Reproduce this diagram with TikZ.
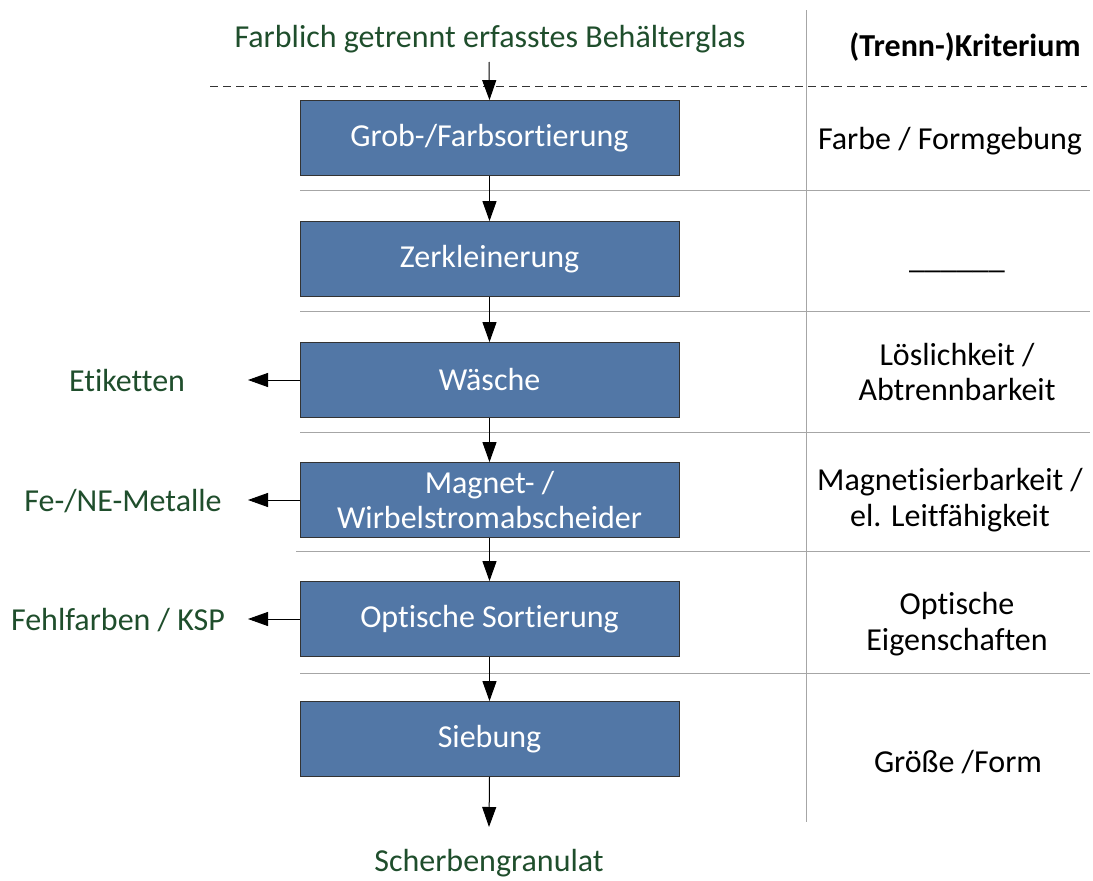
\documentclass[tikz,border=0pt]{standalone}
\usepackage{fontspec}
\setmainfont[Ligatures={NoCommon}]{Carlito}
\usetikzlibrary{arrows.meta}
\definecolor{boxblue}{HTML}{5277A6}
\definecolor{dgreen}{HTML}{1F4E2C}
\definecolor{lgray}{HTML}{A6A6A6}
\tikzset{
  every node/.style={font=\fontsize{32}{35.5}\selectfont, inner sep=0pt},
  stepbox/.style={draw=black!80, line width=0.8pt, fill=boxblue, text=white, minimum width=379pt, minimum height=75pt, align=center},
  greentxt/.style={text=dgreen},
  crit/.style={align=center, text=black},
  flow/.style={line width=1pt, -{Triangle[length=20pt,width=14pt]}},
  sep/.style={lgray, line width=1pt},
}
\begin{document}
\begin{tikzpicture}[x=1pt,y=-1pt]
\useasboundingbox (0,0) rectangle (1093,881);
% separators
\draw[sep] (806,10) -- (806,822);
\draw[dashed, line width=0.8pt, dash pattern=on 8pt off 5pt, black!80] (210,86) -- (1087,86);
\draw[sep] (300,190) -- (1090,190);
\draw[sep] (300,311) -- (1090,311);
\draw[sep] (300,432) -- (1090,432);
\draw[sep] (296,551) -- (1090,551);
\draw[sep] (300,673) -- (1090,673);
% boxes
\node[stepbox] (b1) at (489.5,138) {Grob-/Farbsortierung};
\node[stepbox] (b2) at (489.5,259) {Zerkleinerung};
\node[stepbox] (b3) at (489.5,380) {Wäsche};
\node[stepbox] (b4) at (489.5,500) {Magnet- /\\Wirbelstromabscheider};
\node[stepbox] (b5) at (489.5,619) {Optische Sortierung};
\node[stepbox] (b6) at (489.5,739) {Siebung};
% green labels
\node[greentxt] (in) at (490,39) {Farblich getrennt erfasstes Behälterglas};
\node[greentxt] (out) at (489,863) {Scherbengranulat};
\node[greentxt] (o3) at (127,381) {Etiketten};
\node[greentxt] (o4) at (123,501) {Fe-/NE-Metalle};
\node[greentxt] (o5) at (118,620) {Fehlfarben / KSP};
\coordinate (inA) at (489,62);
\coordinate (outA) at (489,827);
\coordinate (t3) at (248,380);
\coordinate (t4) at (248,500);
\coordinate (t5) at (248,619);
% arrows
\draw[flow] (inA) -- (b1.north);
\draw[flow] (b1) -- (b2);
\draw[flow] (b2) -- (b3);
\draw[flow] (b3) -- (b4);
\draw[flow] (b4) -- (b5);
\draw[flow] (b5) -- (b6);
\draw[flow] (b6.south) -- (outA);
\draw[flow] (b3.west) -- (t3);
\draw[flow] (b4.west) -- (t4);
\draw[flow] (b5.west) -- (t5);
% criteria
\node[crit, font=\fontsize{32}{35.5}\selectfont\bfseries] (k0) at (965,47) {(Trenn-)Kriterium};
\node[crit] (k1) at (950,141) {Farbe / Formgebung};
\node[crit] (k2) at (957,271) {\_\_\_\_\_\_};
\node[crit] (k3) at (957,372) {Löslichkeit /\\Abtrennbarkeit};
\node[crit] (k4) at (950,500) {Magnetisierbarkeit /\\el. Leitfähigkeit};
\node[crit] (k5) at (957,624) {Optische\\Eigenschaften};
\node[crit] (k6) at (958,762) {Größe /Form};
\end{tikzpicture}
\end{document}
